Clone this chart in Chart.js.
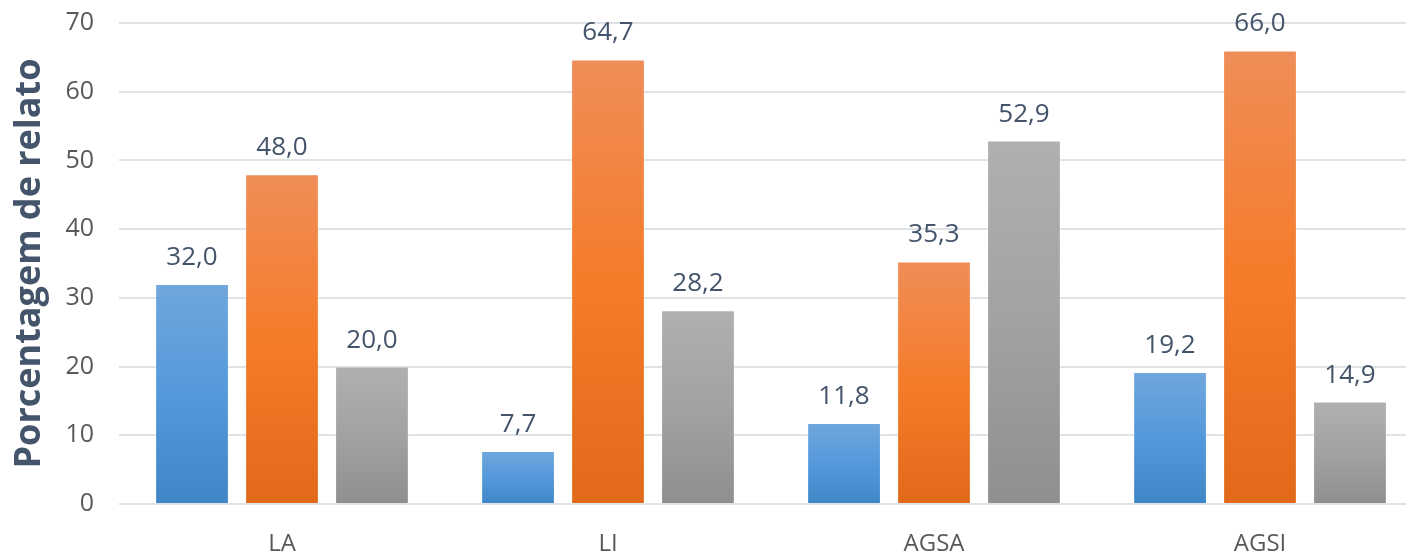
<!DOCTYPE html>
<html>
<head>
<meta charset="utf-8">
<script src="https://cdn.jsdelivr.net/npm/chart.js@4.4.1/dist/chart.umd.min.js"></script>
<style>
  html, body { margin: 0; padding: 0; background: #fff; overflow: hidden; }
  #wrap { width: 1406px; height: 557px; overflow: hidden; }
  /* the original is cropped on the right, so the chart is a bit wider than the page */
  #inner { width: 1423px; height: 557px; position: relative; }
</style>
</head>
<body>
<div id="wrap"><div id="inner"><canvas id="chart"></canvas></div></div>
<script>
// data
const categories = ["LA", "LI", "AGSA", "AGSI"];
const serieAzul = [32.0, 7.7, 11.8, 19.2];
const serieLaranja = [48.0, 64.7, 35.3, 66.0];
const serieCinza = [20.0, 28.2, 52.9, 14.9];
const yTicks = [0, 10, 20, 30, 40, 50, 60, 70];

// colors top -> bottom for each serie
const gradAzul = ["#70a7dd", "#5499db", "#3f86c7"];
const gradLaranja = ["#f08d58", "#f47c2a", "#e2691a"];
const gradCinza = ["#b0b0b0", "#a2a2a2", "#8f8f8f"];

function barGradient(stops){
  return function(ctx){
    const chart = ctx.chart;
    if (!chart.chartArea || ctx.type !== 'data') return stops[1];
    const y = chart.scales.y;
    const top = y.getPixelForValue(ctx.raw);
    const bottom = y.getPixelForValue(0);
    if (!isFinite(top) || top === bottom) return stops[1];
    const g = chart.ctx.createLinearGradient(0, top, 0, bottom);
    g.addColorStop(0, stops[0]);
    g.addColorStop(0.5, stops[1]);
    g.addColorStop(1, stops[2]);
    return g;
  };
}

// values on top of the bars, comma decimal
const valueLabels = {
  id: 'valueLabels',
  afterDatasetsDraw(chart){
    const c = chart.ctx;
    c.save();
    c.font = '26px "Open Sans", sans-serif';
    c.fillStyle = '#44546a';
    c.textAlign = 'center';
    c.textBaseline = 'alphabetic';
    chart.data.datasets.forEach(function(ds, i){
      chart.getDatasetMeta(i).data.forEach(function(bar, j){
        c.fillText(ds.data[j].toFixed(1).replace('.', ','), bar.x, bar.y - 19);
      });
    });
    c.restore();
  }
};

function makeSet(label, values, stops){
  return {
    label: label,
    data: values,
    backgroundColor: barGradient(stops),
    borderColor: 'rgba(255,255,255,0.35)',
    borderWidth: 1,
    categoryPercentage: 0.828,
    barPercentage: 0.82
  };
}

new Chart(document.getElementById('chart'), {
  type: 'bar',
  data: {
    labels: categories,
    datasets: [
      makeSet('s1', serieAzul, gradAzul),
      makeSet('s2', serieLaranja, gradLaranja),
      makeSet('s3', serieCinza, gradCinza)
    ]
  },
  options: {
    responsive: true,
    maintainAspectRatio: false,
    animation: false,
    layout: { padding: { left: 0, right: 0, top: 23, bottom: 0 } },
    plugins: { legend: { display: false }, tooltip: { enabled: false } },
    scales: {
      x: {
        grid: { display: false },
        border: { display: false },
        ticks: { color: '#595959', font: { family: 'Open Sans', size: 24 }, padding: 18 },
        afterFit: function(axis){ axis.height = 53; axis.paddingLeft = 0; axis.paddingRight = 0; }
      },
      y: {
        min: 0,
        max: 70,
        afterBuildTicks: function(axis){ axis.ticks = yTicks.map(function(v){ return { value: v }; }); },
        afterFit: function(axis){ axis.width = 119; axis.paddingTop = 0; axis.paddingBottom = 0; },
        grid: { color: '#dfe3e8', lineWidth: 2, drawTicks: false },
        border: { display: false },
        ticks: { color: '#595959', font: { family: 'Open Sans', size: 25 }, padding: 25 },
        title: {
          display: true,
          text: 'Porcentagem de relato',
          color: '#44546a',
          font: { family: 'Open Sans', size: 36, weight: 'bold' },
          padding: { top: 8, bottom: 13 }
        }
      }
    }
  },
  plugins: [valueLabels]
});
</script>
</body>
</html>
